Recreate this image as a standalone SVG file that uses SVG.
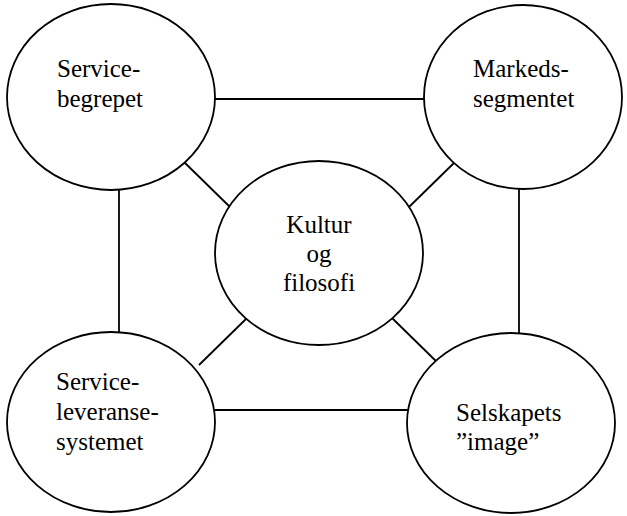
<svg xmlns="http://www.w3.org/2000/svg" width="627" height="516" viewBox="0 0 627 516">
  <style>
    .node ellipse { fill: #ffffff; stroke: #000000; stroke-width: 1.8; }
    .node text { font-family: 'Liberation Serif', 'DejaVu Serif', serif; font-size: 25px; fill: #000000; }
    .center text { text-anchor: middle; }
    #connectors line { stroke: #000000; stroke-width: 1.8; }
  </style>
  <rect width="627" height="516" fill="#ffffff"/>

  <g id="connectors">
    <line x1="215" y1="99" x2="424" y2="99"/>
    <line x1="119" y1="178" x2="119" y2="337"/>
    <line x1="519" y1="177" x2="519" y2="337"/>
    <line x1="215" y1="410" x2="408" y2="410"/>
    <line x1="184" y1="162" x2="231" y2="208"/>
    <line x1="455" y1="162" x2="409" y2="207"/>
    <line x1="247" y1="318" x2="199" y2="365"/>
    <line x1="392" y1="318" x2="440" y2="365"/>
  </g>

  <g id="node-servicebegrepet" class="node">
    <ellipse cx="111" cy="97" rx="104" ry="93"/>
    <text x="57" y="77">Service-</text>
    <text x="57" y="107">begrepet</text>
  </g>

  <g id="node-markedssegmentet" class="node">
    <ellipse cx="523" cy="97" rx="99" ry="92"/>
    <text x="473" y="77">Markeds-</text>
    <text x="473" y="107">segmentet</text>
  </g>

  <g id="node-kultur" class="node center">
    <ellipse cx="319" cy="253" rx="104" ry="92"/>
    <text x="319" y="233">Kultur</text>
    <text x="319" y="262">og</text>
    <text x="319" y="291">filosofi</text>
  </g>

  <g id="node-leveransesystemet" class="node">
    <ellipse cx="111" cy="422" rx="104" ry="90"/>
    <text x="56" y="390">Service-</text>
    <text x="56" y="420">leveranse-</text>
    <text x="56" y="450">systemet</text>
  </g>

  <g id="node-image" class="node">
    <ellipse cx="511" cy="423" rx="104" ry="90"/>
    <text x="456" y="421">Selskapets</text>
    <text x="456" y="450">”image”</text>
  </g>
</svg>
